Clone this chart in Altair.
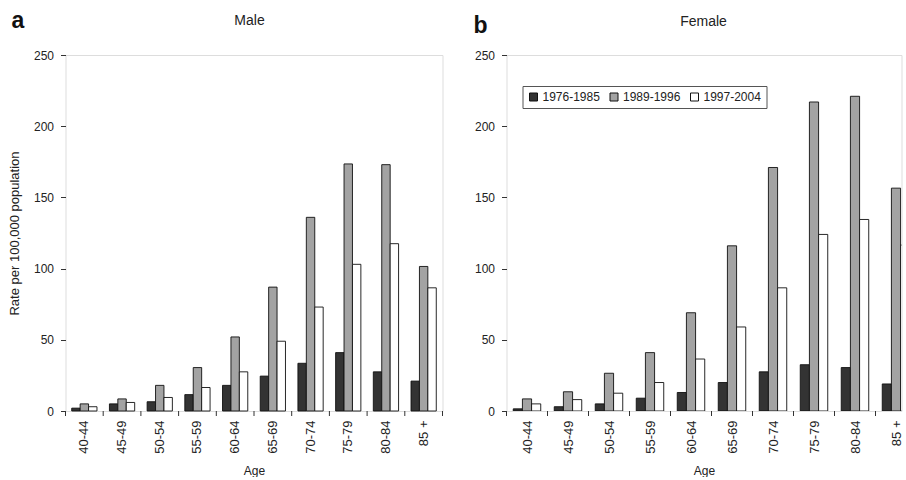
import altair as alt
import pandas as pd

ages = ["40-44", "45-49", "50-54", "55-59", "60-64", "65-69", "70-74", "75-79", "80-84", "85 +"]
periods = ["1976-1985", "1989-1996", "1997-2004"]

male_1976_1985 = [2, 5, 6.5, 11.5, 18, 24.5, 33.5, 41, 27.5, 21]
male_1989_1996 = [5, 8.5, 18, 30.5, 52, 87, 136, 173.5, 173, 101.5]
male_1997_2004 = [3, 6, 9.5, 16.5, 27.5, 49, 73, 103, 117.5, 86.5]

female_1976_1985 = [1.5, 3, 5, 9, 13, 20, 27.5, 32.5, 30.5, 19]
female_1989_1996 = [8.5, 13.5, 26.5, 41, 69, 116, 171, 217, 221, 156.5]
female_1997_2004 = [5, 8, 12.5, 20, 36.5, 59, 86.5, 124, 134.5, 116.5]

rows = []
for sex, series in [("Male", [male_1976_1985, male_1989_1996, male_1997_2004]),
                    ("Female", [female_1976_1985, female_1989_1996, female_1997_2004])]:
    for j, (period, vals) in enumerate(zip(periods, series)):
        for i, (age, v) in enumerate(zip(ages, vals)):
            rows.append({"sex": sex, "age": age, "i": i, "period": period, "j": j, "rate": v})
df = pd.DataFrame(rows)

FONT = "Liberation Sans"
TXT = "#222222"
fills = ["#333333", "#a3a3a3", "#ffffff"]
H = 356
GAP = 0.33          # share of each age slot left empty between groups
BW = (1 - GAP) / 3  # width of one bar, in age slots

age_list_expr = "[" + ",".join("'%s'" % a for a in ages) + "]"


def axes(ytitle, quant):
    xkw = dict(title="Age", labelAngle=-90, ticks=False, tickSize=0, domain=False, grid=False,
               labelFontSize=13, labelFont=FONT, labelColor=TXT, labelPadding=9,
               titleFont=FONT, titleFontSize=12, titleFontWeight="normal",
               titleColor=TXT, titlePadding=12, labelOverlap=False)
    if quant:
        xkw.update(values=[i + 0.5 for i in range(len(ages))],
                   labelExpr=age_list_expr + "[round(datum.value - 0.5)]")
    ykw = dict(values=[0, 50, 100, 150, 200, 250], grid=False, domain=False,
               tickSize=5, tickColor="#333333", labelFontSize=12, labelFont=FONT,
               labelColor=TXT, labelPadding=7)
    if ytitle:
        yaxis = alt.Axis(title=ytitle, titleFont=FONT, titleFontSize=13,
                         titleFontWeight="normal", titleColor=TXT, titlePadding=12, **ykw)
    else:
        yaxis = alt.Axis(title=None, **ykw)
    return alt.Axis(**xkw), yaxis


def decorations(letter, letter_x, letter_y, title, title_x, title_y):
    lab = alt.Chart(pd.DataFrame({"letter": [letter]})).mark_text(
        font=FONT, fontSize=23, fontWeight="bold", align="left", baseline="alphabetic",
        color="#111111").encode(text="letter:N", x=alt.value(letter_x), y=alt.value(letter_y))
    ttl = alt.Chart(pd.DataFrame({"t": [title]})).mark_text(
        font=FONT, fontSize=14, align="center", baseline="alphabetic",
        color=TXT).encode(text="t:N", x=alt.value(title_x), y=alt.value(title_y))
    return [lab, ttl]


yscale = alt.Scale(domain=[0, 250])
fill_scale = alt.Scale(domain=periods, range=fills)

# ---------- Male panel (all ten age groups visible) ----------
W_L = 377
xax, yax = axes("Rate per 100,000 population", False)
xscale_l = alt.Scale(domain=ages, paddingInner=0, paddingOuter=0)
base_m = alt.Chart(df).transform_filter(alt.datum.sex == "Male")
bars_m = base_m.mark_bar(stroke="#111111", strokeWidth=0.9).encode(
    x=alt.X("age:N", scale=xscale_l, axis=xax, sort=ages),
    xOffset=alt.XOffset("period:N", scale=alt.Scale(domain=periods, paddingInner=0, paddingOuter=0.74)),
    y=alt.Y("rate:Q", scale=yscale, axis=yax),
    fill=alt.Fill("period:N", scale=fill_scale, legend=None),
)
ticks_m = base_m.transform_filter(alt.datum.j == 0).mark_rule(color="#333333", strokeWidth=1).encode(
    x=alt.X("age:N", scale=xscale_l, axis=xax, sort=ages, bandPosition=0),
    y=alt.value(H), y2=alt.value(H + 5),
)
end_m = base_m.transform_filter((alt.datum.j == 0) & (alt.datum.i == len(ages) - 1)).mark_rule(
    color="#333333", strokeWidth=1).encode(
    x=alt.X("age:N", scale=xscale_l, axis=xax, sort=ages, bandPosition=1),
    y=alt.value(H), y2=alt.value(H + 5),
)
left = alt.layer(bars_m, ticks_m, end_m, *decorations("a", -54, -27.5, "Male", 184, -30.5)).properties(
    width=W_L, height=H)

# ---------- Female panel (cut at the right edge, as in the source figure) ----------
W_R = 395
SLOT = 41.0
xax_r, yax_r = axes(None, True)
xscale_r = alt.Scale(domain=[0, W_R / SLOT], nice=False, zero=False)
base_f = alt.Chart(df).transform_filter(alt.datum.sex == "Female").transform_calculate(
    x0="datum.i + %f + datum.j * %f" % (GAP / 2, BW),
    x1="datum.i + %f + (datum.j + 1) * %f" % (GAP / 2, BW),
    base="0",
)
leg = alt.Legend(title=None, orient="none", legendX=16, legendY=31, direction="horizontal",
                 symbolType="square", symbolSize=64, symbolStrokeColor="#111111",
                 symbolStrokeWidth=1, labelFont=FONT, labelFontSize=12, labelColor=TXT,
                 strokeColor="#555555", padding=5, columnPadding=7.5, labelOffset=3,
                 fillColor="white")
bars_f = base_f.mark_bar(stroke="#111111", strokeWidth=0.9, clip=True).encode(
    x=alt.X("x0:Q", scale=xscale_r, axis=xax_r),
    x2="x1:Q",
    y=alt.Y("rate:Q", scale=yscale, axis=yax_r),
    y2="base:Q",
    fill=alt.Fill("period:N", scale=fill_scale, legend=leg),
)
ticks_f = base_f.transform_filter(alt.datum.j == 0).mark_rule(color="#333333", strokeWidth=1).encode(
    x=alt.X("i:Q", scale=xscale_r, axis=xax_r),
    y=alt.value(H), y2=alt.value(H + 5),
)
right = alt.layer(bars_f, ticks_f, *decorations("b", -33, -22.5, "Female", 197, -29.5)).properties(
    width=W_R, height=H)

chart = alt.hconcat(left, right, spacing=29).resolve_scale(fill="independent", x="independent").resolve_legend(
    fill="independent").properties(
    padding={"left": 7.5, "top": 9, "right": 0, "bottom": 0}
).configure_view(stroke="#333333", strokeWidth=1.3).configure(background="white")

chart.save("out.html", embed_options={"renderer": "svg", "actions": False})
